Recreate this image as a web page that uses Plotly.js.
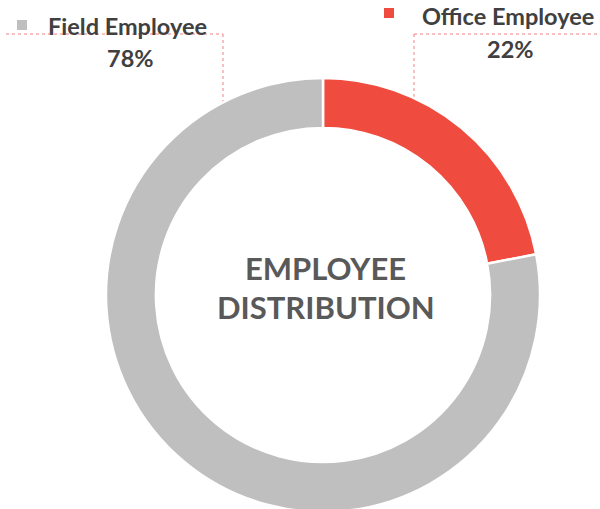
<!DOCTYPE html>
<html><head><meta charset="utf-8">
<script src="https://cdn.plot.ly/plotly-3.0.1.min.js"></script>
<style>html,body{margin:0;padding:0;overflow:hidden;background:#fff}</style>
</head><body>
<div id="chart" style="width:600px;height:515px"></div>
<script>
const categories = ["Office Employee", "Field Employee"];
const values = [22, 78];
const colors = ["#EF4B3F", "#BFBFBF"];
const centerText = ["EMPLOYEE", "DISTRIBUTION"];

const W = 600, H = 515;
const px = x => x / W, py = y => 1 - y / H;

const trace = {
  type: "pie",
  labels: categories,
  values: values,
  sort: false,
  direction: "clockwise",
  rotation: 0,
  hole: 0.77,
  textinfo: "none",
  hoverinfo: "label+percent",
  marker: {colors: colors, line: {color: "#ffffff", width: 2.5}},
  domain: {x: [px(106), px(540)], y: [py(512), py(78)]},
  showlegend: false
};

const labelFont = {family: "Lato, 'Open Sans', sans-serif", size: 23.5, color: "#404040"};
const centerFont = {family: "Lato, 'Open Sans', sans-serif", size: 31, color: "#595959"};
const annotations = [
  {x: px(127), y: py(26), text: "<b>" + categories[1] + "</b>", font: labelFont},
  {x: px(130), y: py(58), text: "<b>" + values[1] + "%</b>", font: labelFont},
  {x: px(508), y: py(16), text: "<b>" + categories[0] + "</b>", font: labelFont},
  {x: px(510), y: py(49), text: "<b>" + values[0] + "%</b>", font: labelFont},
  {x: px(325), y: py(268), text: "<b>" + centerText[0] + "</b>", font: centerFont},
  {x: px(326), y: py(307), text: "<b>" + centerText[1] + "</b>", font: centerFont}
].map(a => Object.assign({xref: "paper", yref: "paper", showarrow: false, xanchor: "center", yanchor: "middle"}, a));

const dot = {color: "#F08080", width: 1, dash: "dot"};
const shapes = [
  {type: "line", x0: px(6), y0: py(34), x1: px(223), y1: py(34), line: dot},
  {type: "line", x0: px(223), y0: py(34), x1: px(223), y1: py(103), line: dot},
  {type: "line", x0: px(414), y0: py(34), x1: px(600), y1: py(34), line: dot},
  {type: "line", x0: px(414), y0: py(34), x1: px(414), y1: py(97), line: dot},
  {type: "rect", x0: px(17), y0: py(20), x1: px(27), y1: py(30), fillcolor: colors[1], line: {width: 0}},
  {type: "rect", x0: px(384), y0: py(8), x1: px(394), y1: py(18), fillcolor: colors[0], line: {width: 0}}
].map(s => Object.assign({xref: "paper", yref: "paper", layer: "below"}, s));

Plotly.newPlot("chart", [trace], {
  width: W, height: H,
  margin: {l: 0, r: 0, t: 0, b: 0},
  paper_bgcolor: "#ffffff",
  annotations: annotations,
  shapes: shapes
}, {displayModeBar: false, staticPlot: true});
</script>
</body></html>
